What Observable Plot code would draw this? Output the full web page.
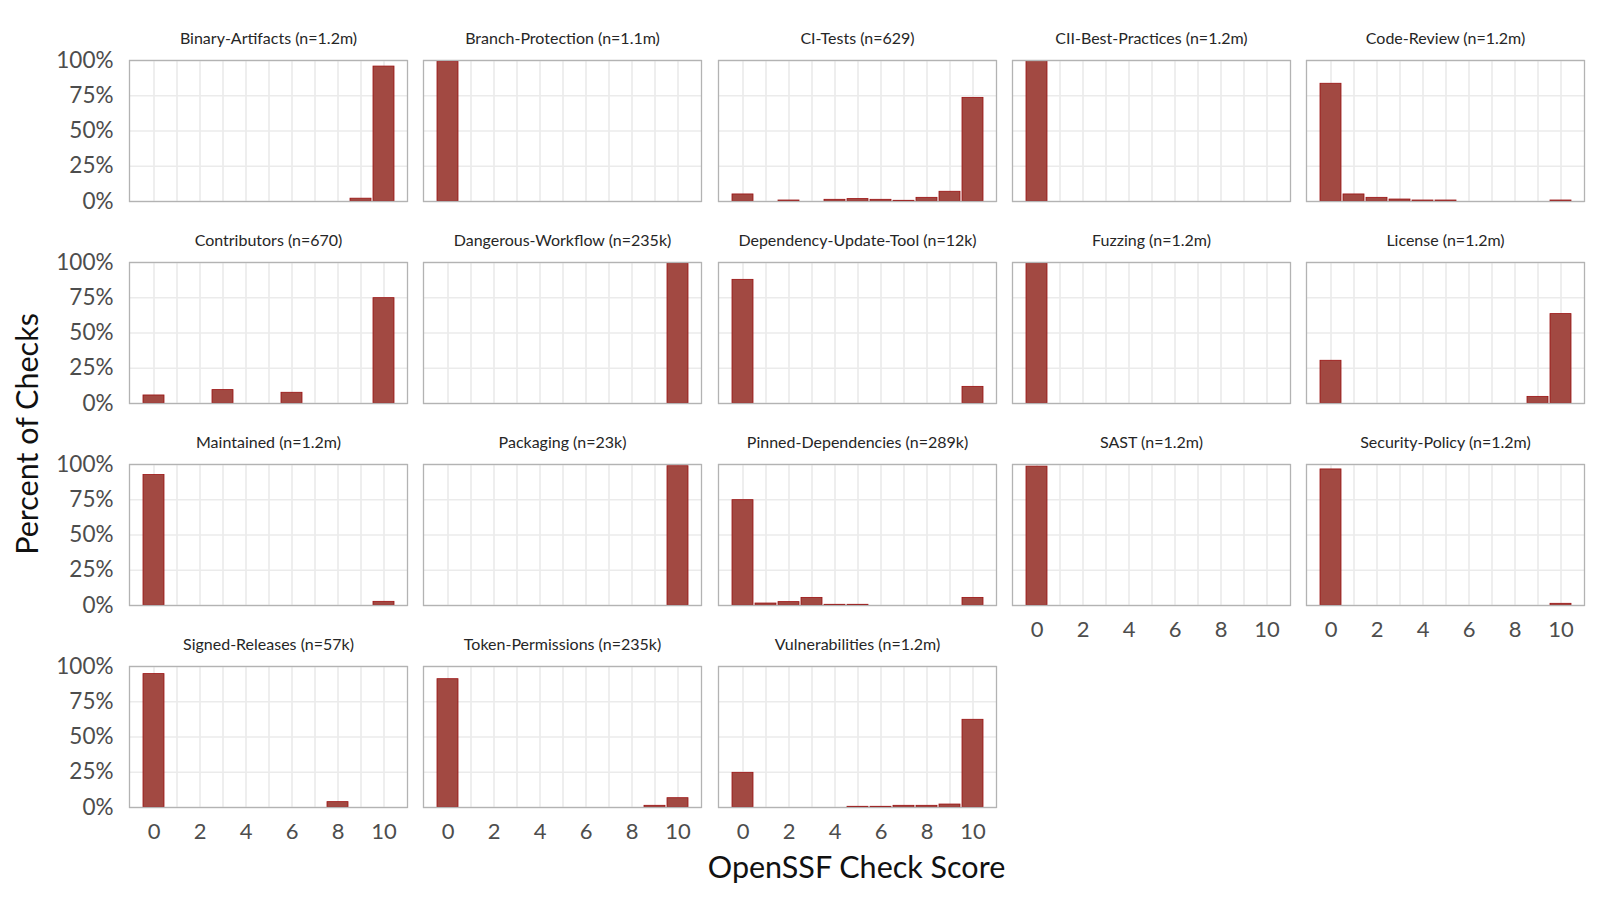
<!DOCTYPE html>
<html>
<head>
<meta charset="utf-8">
<script src="https://cdn.jsdelivr.net/npm/d3@7"></script>
<script src="https://cdn.jsdelivr.net/npm/@observablehq/plot@0.6"></script>
<style>
  body { margin: 0; background: #fff; }
  #chart { position: relative; width: 1600px; height: 900px; overflow: hidden; font-family: Lato, sans-serif; background: #fff; }
  .panel { position: absolute; width: 278px; height: 141px; }
  .ytitle { position: absolute; left: 26px; top: 433.5px; transform: translate(-50%, -50%) rotate(-90deg); font-size: 30.5px; white-space: nowrap; color: #111; }
  .xtitle { position: absolute; left: 856.5px; top: 866px; transform: translate(-50%, -50%); font-size: 30.5px; white-space: nowrap; color: #111; }
</style>
</head>
<body>
<div id="chart"></div>
<script>
// ---- data ----
const scores = [0, 1, 2, 3, 4, 5, 6, 7, 8, 9, 10];
const xTickLabels = [0, 2, 4, 6, 8, 10];
const yTicks = [0, 0.25, 0.5, 0.75, 1];
const checks = ["Binary-Artifacts", "Branch-Protection", "CI-Tests", "CII-Best-Practices", "Code-Review",
  "Contributors", "Dangerous-Workflow", "Dependency-Update-Tool", "Fuzzing", "License",
  "Maintained", "Packaging", "Pinned-Dependencies", "SAST", "Security-Policy",
  "Signed-Releases", "Token-Permissions", "Vulnerabilities"];
const sampleSizes = ["1.2m", "1.1m", "629", "1.2m", "1.2m",
  "670", "235k", "12k", "1.2m", "1.2m",
  "1.2m", "23k", "289k", "1.2m", "1.2m",
  "57k", "235k", "1.2m"];
// percent of checks at each score 0..10
const binaryArtifacts      = [0, 0, 0, 0, 0, 0, 0, 0, 0, 2.0, 95.7];
const branchProtection     = [98.9, 0, 0, 0, 0, 0, 0, 0, 0, 0, 0];
const ciTests              = [5.0, 0, 0.7, 0, 1.2, 1.7, 1.2, 0.5, 2.6, 6.9, 73.5];
const ciiBestPractices     = [99.6, 0, 0, 0, 0, 0, 0, 0, 0, 0, 0];
const codeReview           = [83.5, 5.0, 2.6, 1.4, 0.7, 0.7, 0, 0, 0, 0, 0.7];
const contributors         = [5.7, 0, 0, 9.5, 0, 0, 7.6, 0, 0, 0, 74.7];
const dangerousWorkflow    = [0, 0, 0, 0, 0, 0, 0, 0, 0, 0, 99.4];
const dependencyUpdateTool = [87.7, 0, 0, 0, 0, 0, 0, 0, 0, 0, 11.8];
const fuzzing              = [99.4, 0, 0, 0, 0, 0, 0, 0, 0, 0, 0];
const license              = [30.3, 0, 0, 0, 0, 0, 0, 0, 0, 4.7, 63.4];
const maintained           = [92.5, 0, 0, 0, 0, 0, 0, 0, 0, 0, 2.6];
const packaging            = [0, 0, 0, 0, 0, 0, 0, 0, 0, 0, 98.8];
const pinnedDependencies   = [74.7, 1.4, 2.4, 5.4, 0.5, 0.5, 0, 0, 0, 0, 5.4];
const sast                 = [98.5, 0, 0, 0, 0, 0, 0, 0, 0, 0, 0];
const securityPolicy       = [96.5, 0, 0, 0, 0, 0, 0, 0, 0, 0, 1.2];
const signedReleases       = [94.6, 0, 0, 0, 0, 0, 0, 0, 3.8, 0, 0];
const tokenPermissions     = [91.0, 0, 0, 0, 0, 0, 0, 0, 0, 1.2, 6.6];
const vulnerabilities      = [24.6, 0, 0, 0, 0, 0.5, 0.5, 1.2, 1.2, 2.1, 62.2];

const seriesList = [binaryArtifacts, branchProtection, ciTests, ciiBestPractices, codeReview,
  contributors, dangerousWorkflow, dependencyUpdateTool, fuzzing, license,
  maintained, packaging, pinnedDependencies, sast, securityPolicy,
  signedReleases, tokenPermissions, vulnerabilities];

// ---- layout ----
const nCol = 5;
const colStep = 294.3, rowStep = 201.9;
const left0 = 129, top0 = 60;
const fillColor = "#a24942", strokeColor = "#9a1010";

const chart = document.getElementById("chart");

checks.forEach((name, i) => {
  const c = i % nCol, r = Math.floor(i / nCol);
  const rows = scores.map((s, k) => ({score: s, pct: seriesList[i][k] / 100})).filter(d => d.pct > 0);
  const showY = c === 0;
  const showX = i + nCol >= checks.length;
  const marks = [
    Plot.gridX(scores, {stroke: "#ebebeb", strokeOpacity: 1, strokeWidth: 1.7}),
    Plot.gridY(yTicks, {stroke: "#ebebeb", strokeOpacity: 1, strokeWidth: 1.7}),
    Plot.barY(rows, {x: "score", y: "pct", fill: fillColor, stroke: strokeColor, strokeWidth: 0.8}),
    Plot.frame({stroke: "#b3b3b3", strokeWidth: 1.3}),
    Plot.text([`${name} (n=${sampleSizes[i]})`], {frameAnchor: "top", lineAnchor: "middle", dy: -22, fontSize: 16, fill: "#262626"})
  ];
  if (showY) marks.push(Plot.axisY(yTicks, {tickSize: 0, tickPadding: 16, fontSize: 22.5, color: "#4d4d4d", tickFormat: d => `${Math.round(d * 100)}%`, label: null}));
  if (showX) marks.push(Plot.axisX(xTickLabels, {tickSize: 0, tickPadding: 16, fontSize: 22, color: "#4d4d4d", label: null}));
  const svg = Plot.plot({
    width: 278, height: 141,
    marginTop: 0, marginRight: 0, marginBottom: 0, marginLeft: 0,
    x: {type: "band", domain: scores, paddingInner: 0.1, paddingOuter: 0.55, axis: null},
    y: {domain: [0, 1], axis: null},
    style: {background: "transparent", overflow: "visible", fontFamily: "Lato, sans-serif"},
    marks
  });
  const div = document.createElement("div");
  div.className = "panel";
  div.style.left = (left0 + c * colStep) + "px";
  div.style.top = (top0 + r * rowStep) + "px";
  div.appendChild(svg);
  chart.appendChild(div);
});

const yt = document.createElement("div");
yt.className = "ytitle"; yt.textContent = "Percent of Checks";
chart.appendChild(yt);
const xt = document.createElement("div");
xt.className = "xtitle"; xt.textContent = "OpenSSF Check Score";
chart.appendChild(xt);
</script>
</body>
</html>
